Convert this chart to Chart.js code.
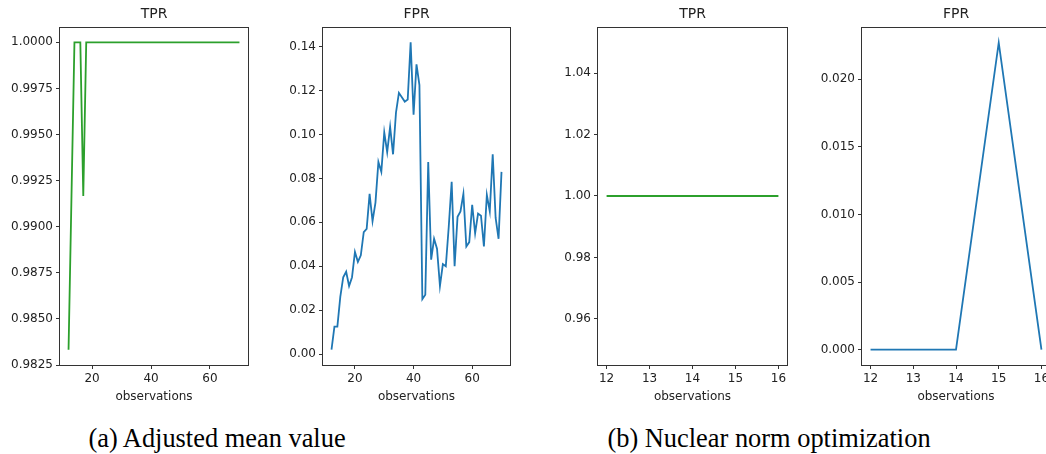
<!DOCTYPE html>
<html>
<head>
<meta charset="utf-8">
<script src="https://cdn.jsdelivr.net/npm/chart.js@4"></script>
<style>
  body { margin: 0; background: #fff; overflow: hidden; }
  #page { position: relative; width: 1046px; height: 454px; overflow: hidden; }
  .panel { position: absolute; top: 0; height: 410px; }
  .caption { position: absolute; top: 425px; font-family: "Liberation Serif", "Times New Roman", serif;
             font-size: 26.4px; line-height: 26px; color: #000; white-space: nowrap; transform: translateX(-50%); }
</style>
</head>
<body>
<div id="page">
  <div class="panel" style="left:0px;width:251px"><canvas id="tprA"></canvas></div>
  <div class="panel" style="left:270px;width:243px"><canvas id="fprA"></canvas></div>
  <div class="panel" style="left:545px;width:245px"><canvas id="tprB"></canvas></div>
  <div class="panel" style="left:800px;width:253px"><canvas id="fprB"></canvas></div>
  <div class="caption" style="left:217px">(a) Adjusted mean value</div>
  <div class="caption" style="left:769px">(b) Nuclear norm optimization</div>
</div>
<script>
// (a) adjusted mean value
const obsA = [12, 13, 14, 15, 16, 17, 18, 19, 20, 21, 22, 23, 24, 25, 26, 27, 28, 29, 30, 31,
              32, 33, 34, 35, 36, 37, 38, 39, 40, 41, 42, 43, 44, 45, 46, 47, 48, 49, 50, 51,
              52, 53, 54, 55, 56, 57, 58, 59, 60, 61, 62, 63, 64, 65, 66, 67, 68, 69, 70];
const tprA = [0.98333, 0.99167, 1, 1, 1, 0.99167, 1, 1, 1, 1, 1, 1, 1, 1, 1, 1, 1, 1, 1, 1,
              1, 1, 1, 1, 1, 1, 1, 1, 1, 1, 1, 1, 1, 1, 1, 1, 1, 1, 1, 1,
              1, 1, 1, 1, 1, 1, 1, 1, 1, 1, 1, 1, 1, 1, 1, 1, 1, 1, 1];
const fprA = [0.002, 0.0125, 0.0125, 0.026, 0.035, 0.0375, 0.031, 0.035, 0.0465, 0.042,
              0.045, 0.0555, 0.057, 0.073, 0.0605, 0.069, 0.0875, 0.083, 0.101, 0.092,
              0.1035, 0.091, 0.110, 0.119, 0.117, 0.115, 0.116, 0.142, 0.109, 0.132,
              0.1225, 0.025, 0.027, 0.0875, 0.043, 0.0525, 0.048, 0.031, 0.041, 0.040,
              0.058, 0.0785, 0.040, 0.0625, 0.065, 0.073, 0.049, 0.051, 0.068, 0.055,
              0.064, 0.063, 0.049, 0.0725, 0.065, 0.091, 0.062, 0.0525, 0.083];

// (b) nuclear norm optimization
const obsB = [12, 13, 14, 15, 16];
const tprB = [1, 1, 1, 1, 1];
const fprB = [0, 0, 0, 0.0227, 0];

// tick labels
const xTicksA = [20, 40, 60];
const xTicksB = [12, 13, 14, 15, 16];
const tprATicks = [0.9825, 0.985, 0.9875, 0.99, 0.9925, 0.995, 0.9975, 1.0];
const fprATicks = [0, 0.02, 0.04, 0.06, 0.08, 0.10, 0.12, 0.14];
const tprBTicks = [0.96, 0.98, 1.00, 1.02, 1.04];
const fprBTicks = [0, 0.005, 0.010, 0.015, 0.020];

const GREEN = '#2ca02c';
const BLUE = '#1f77b4';
const AXIS = '#333';
const TEXT = '#222';
const FONT = 'DejaVu Sans';

// box round the plot, like matplotlib spines
const spines = {
  id: 'spines',
  afterDraw(chart) {
    const a = chart.chartArea;
    const ctx = chart.ctx;
    ctx.save();
    ctx.strokeStyle = AXIS;
    ctx.lineWidth = 1;
    ctx.strokeRect(Math.round(a.left) - 0.5, Math.round(a.top) + 0.5,
                   Math.round(a.right - a.left) + 1, Math.round(a.bottom - a.top));
    ctx.restore();
  }
};

function makePanel(id, title, xs, ys, color, xOpt, yOpt) {
  return new Chart(document.getElementById(id), {
    type: 'line',
    data: {
      datasets: [{
        data: xs.map((x, i) => ({ x: x, y: ys[i] })),
        borderColor: color,
        borderWidth: 1.8,
        pointRadius: 0,
        tension: 0,
        fill: false
      }]
    },
    options: {
      responsive: true,
      maintainAspectRatio: false,
      animation: false,
      layout: { padding: { right: 3, left: 0, top: 0, bottom: 0 } },
      plugins: {
        legend: { display: false },
        tooltip: { enabled: false },
        title: {
          display: true, text: title, color: TEXT, fullSize: false,
          font: { family: FONT, size: 14, weight: 'normal' },
          padding: { top: 6, bottom: 4.2 }
        }
      },
      scales: {
        x: {
          type: 'linear',
          min: xOpt.min, max: xOpt.max,
          afterBuildTicks: s => { s.ticks = xOpt.ticks.map(v => ({ value: v })); },
          afterFit: s => { s.height = 45; },
          grid: { drawOnChartArea: false, tickLength: 4, color: AXIS },
          border: { display: false },
          ticks: { color: TEXT, padding: 3, maxRotation: 0, font: { family: FONT, size: 12 },
                   callback: v => String(v) },
          title: { display: true, text: 'observations', color: TEXT,
                   font: { family: FONT, size: 12 }, padding: { top: 0, bottom: 6 } }
        },
        y: {
          type: 'linear',
          min: yOpt.min, max: yOpt.max,
          afterBuildTicks: s => { s.ticks = yOpt.ticks.map(v => ({ value: v })); },
          afterFit: s => { s.width = yOpt.width; },
          grid: { drawOnChartArea: false, tickLength: 4, color: AXIS },
          border: { display: false },
          ticks: { color: TEXT, padding: 3, font: { family: FONT, size: 12 },
                   callback: v => v.toFixed(yOpt.digits) }
        }
      }
    },
    plugins: [spines]
  });
}

makePanel('tprA', 'TPR', obsA, tprA, GREEN,
  { min: 9.1, max: 72.9, ticks: xTicksA },
  { min: 0.9825, max: 1.000833, ticks: tprATicks, digits: 4, width: 60 });
makePanel('fprA', 'FPR', obsA, fprA, BLUE,
  { min: 9.1, max: 72.9, ticks: xTicksA },
  { min: -0.005, max: 0.149, ticks: fprATicks, digits: 2, width: 53 });
makePanel('tprB', 'TPR', obsB, tprB, GREEN,
  { min: 11.8, max: 16.2, ticks: xTicksB },
  { min: 0.945, max: 1.055, ticks: tprBTicks, digits: 2, width: 53 });
makePanel('fprB', 'FPR', obsB, fprB, BLUE,
  { min: 11.8, max: 16.2, ticks: xTicksB },
  { min: -0.001136, max: 0.02386, ticks: fprBTicks, digits: 3, width: 62 });
</script>
</body>
</html>
